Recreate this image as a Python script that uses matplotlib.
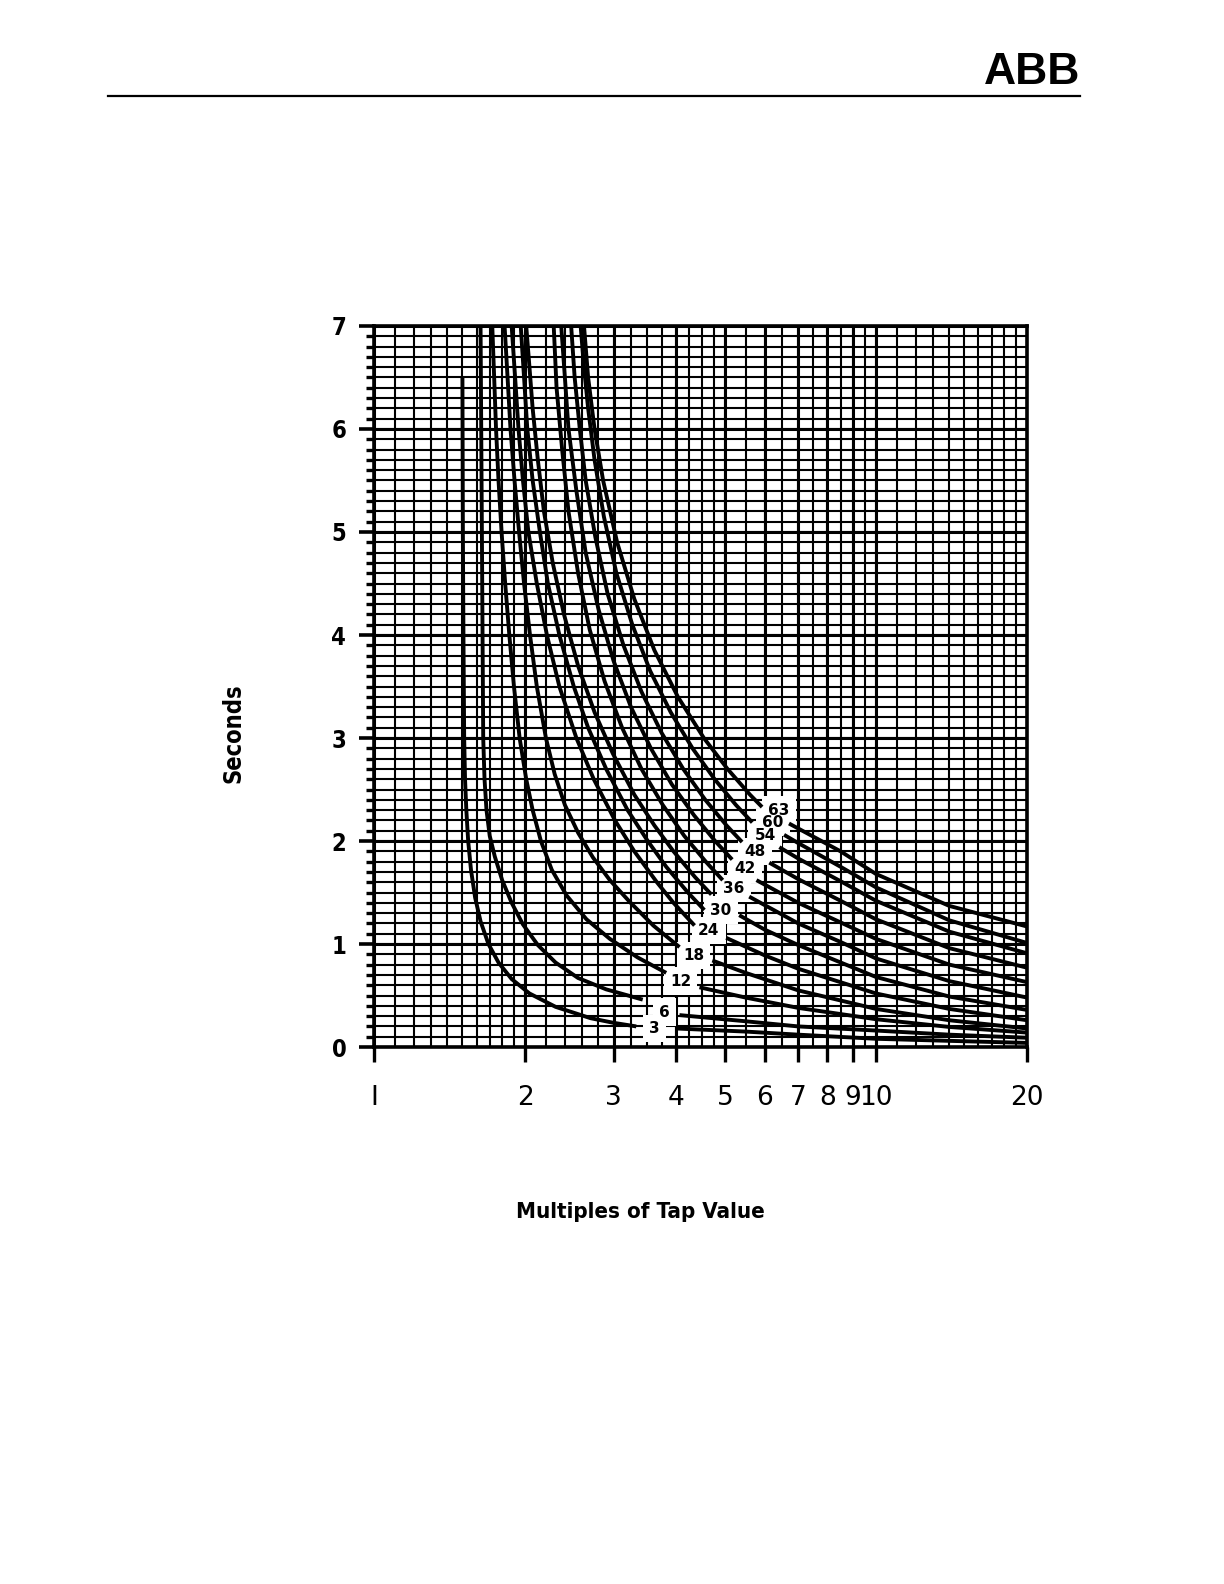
import numpy as np
import matplotlib
matplotlib.use("Agg")
import matplotlib.pyplot as plt

# curve labels and where they sit in the white band
curve_labels = [3, 6, 12, 18, 24, 30, 36, 42, 48, 54, 60, 63]
label_x = [3.62, 3.79, 4.08, 4.33, 4.64, 4.91, 5.21, 5.49, 5.74, 6.01, 6.23, 6.41]
label_t = [0.18, 0.34, 0.64, 0.89, 1.13, 1.33, 1.54, 1.73, 1.90, 2.05, 2.18, 2.30]

# part of each curve left of the labels (multiples of tap, seconds)
left_x_3 = [1.50, 1.503, 1.507, 1.512, 1.518, 1.527, 1.54, 1.56, 1.59, 1.63, 1.69, 1.77,
            1.88, 2.04, 2.3, 2.7, 3.0, 3.33]
left_t_3 = [6.5, 5.0, 4.0, 3.0, 2.6, 2.3, 2.0, 1.72, 1.45, 1.22, 1.0, 0.82,
            0.66, 0.52, 0.39, 0.28, 0.235, 0.20]
left_x_6 = [1.63, 1.635, 1.64, 1.645, 1.65, 1.66, 1.675, 1.70, 1.74, 1.80, 1.88, 1.98,
            2.12, 2.3, 2.55, 2.9, 3.43]
left_t_6 = [7.0, 6.0, 5.0, 4.0, 3.0, 2.6, 2.3, 2.05, 1.85, 1.62, 1.40, 1.19,
            0.99, 0.82, 0.67, 0.56, 0.46]
left_x_12 = [1.72, 1.735, 1.75, 1.77, 1.795, 1.825, 1.86, 1.90, 1.95, 2.01, 2.07, 2.15,
             2.26, 2.42, 2.65, 2.95, 3.35, 3.82]
left_t_12 = [7.0, 6.5, 6.0, 5.5, 5.0, 4.5, 4.0, 3.5, 3.0, 2.6, 2.3, 2.0,
             1.72, 1.47, 1.24, 1.05, 0.87, 0.72]
left_x_18 = [1.82, 1.845, 1.87, 1.905, 1.945, 1.99, 2.045, 2.11, 2.2, 2.29, 2.4, 2.55,
             2.73, 2.95, 3.23, 3.6, 4.06]
left_t_18 = [7.0, 6.5, 6.0, 5.5, 5.0, 4.5, 4.0, 3.5, 3.0, 2.65, 2.35, 2.08,
             1.84, 1.62, 1.41, 1.18, 0.97]
left_x_24 = [1.88, 1.91, 1.94, 1.98, 2.03, 2.11, 2.21, 2.34, 2.53, 2.74, 3.02, 3.30,
             3.66, 3.95, 4.35]
left_t_24 = [7.0, 6.5, 6.0, 5.5, 5.0, 4.5, 4.0, 3.5, 3.0, 2.6, 2.2, 1.9,
             1.6, 1.4, 1.18]
left_x_30 = [1.96, 1.99, 2.02, 2.07, 2.14, 2.22, 2.34, 2.50, 2.67, 2.90, 3.20, 3.51,
             3.82, 4.22, 4.55]
left_t_30 = [7.0, 6.5, 6.0, 5.5, 5.0, 4.5, 4.0, 3.5, 3.1, 2.7, 2.3, 2.0,
             1.75, 1.5, 1.33]
left_x_36 = [2.01, 2.04, 2.07, 2.12, 2.18, 2.27, 2.39, 2.55, 2.75, 2.99, 3.30, 3.62,
             3.95, 4.36, 4.70]
left_t_36 = [7.0, 6.6, 6.2, 5.7, 5.2, 4.7, 4.2, 3.7, 3.25, 2.85, 2.45, 2.15,
             1.9, 1.65, 1.48]
left_x_42 = [2.28, 2.31, 2.37, 2.44, 2.55, 2.69, 2.88, 3.12, 3.41, 3.76, 4.15, 4.58, 4.95]
left_t_42 = [7.0, 6.4, 5.8, 5.2, 4.6, 4.05, 3.55, 3.1, 2.7, 2.35, 2.05, 1.8, 1.62]
left_x_48 = [2.36, 2.40, 2.44, 2.53, 2.64, 2.80, 3.00, 3.25, 3.56, 3.92, 4.34, 4.78, 5.17]
left_t_48 = [7.0, 6.5, 6.0, 5.4, 4.8, 4.25, 3.75, 3.3, 2.9, 2.55, 2.25, 2.0, 1.82]
left_x_54 = [2.47, 2.51, 2.57, 2.64, 2.76, 2.92, 3.14, 3.41, 3.74, 4.13, 4.57, 5.04, 5.41]
left_t_54 = [7.0, 6.5, 6.0, 5.5, 4.95, 4.4, 3.9, 3.45, 3.05, 2.7, 2.4, 2.15, 1.99]
left_x_60 = [2.58, 2.62, 2.67, 2.75, 2.87, 3.04, 3.27, 3.55, 3.90, 4.31, 4.77, 5.26, 5.67]
left_t_60 = [7.0, 6.6, 6.2, 5.7, 5.15, 4.6, 4.1, 3.65, 3.25, 2.9, 2.6, 2.35, 2.18]
left_x_63 = [2.62, 2.67, 2.75, 2.86, 3.05, 3.30, 3.62, 4.03, 4.54, 5.06, 5.61, 5.93]
left_t_63 = [7.0, 6.5, 6.0, 5.5, 4.9, 4.35, 3.85, 3.4, 3.0, 2.7, 2.45, 2.33]

# part of each curve right of the labels
right_x_3 = [4.0, 5.5, 7, 10, 14, 20]
right_t_3 = [0.18, 0.15, 0.12, 0.08, 0.06, 0.04]
right_x_6 = [4.06, 5.5, 7, 10, 14, 20]
right_t_6 = [0.31, 0.25, 0.20, 0.16, 0.12, 0.09]
right_x_12 = [4.45, 5.5, 7, 10, 14, 20]
right_t_12 = [0.58, 0.48, 0.38, 0.27, 0.195, 0.14]
right_x_18 = [4.72, 5.5, 7, 10, 14, 20]
right_t_18 = [0.84, 0.72, 0.55, 0.37, 0.26, 0.18]
right_x_24 = [5.03, 6, 7, 10, 14, 20]
right_t_24 = [1.06, 0.89, 0.76, 0.52, 0.37, 0.26]
right_x_30 = [5.34, 6, 7, 10, 14, 20]
right_t_30 = [1.28, 1.14, 0.99, 0.68, 0.49, 0.36]
right_x_36 = [5.59, 7, 8.5, 10, 14, 20]
right_t_36 = [1.46, 1.20, 1.02, 0.86, 0.64, 0.48]
right_x_42 = [5.78, 7, 8.5, 10, 14, 20]
right_t_42 = [1.62, 1.40, 1.21, 1.05, 0.80, 0.63]
right_x_48 = [6.13, 7, 8.5, 10, 14, 20]
right_t_48 = [1.79, 1.63, 1.42, 1.24, 0.96, 0.77]
right_x_54 = [6.42, 7, 8.5, 10, 14, 20]
right_t_54 = [1.94, 1.83, 1.61, 1.42, 1.12, 0.91]
right_x_60 = [6.56, 7, 8.5, 10, 14, 20]
right_t_60 = [2.06, 1.98, 1.75, 1.55, 1.23, 1.01]
right_x_63 = [6.71, 8.5, 10, 14, 20]
right_t_63 = [2.17, 1.90, 1.68, 1.37, 1.17]

x_ticks = [1, 2, 3, 4, 5, 6, 7, 8, 9, 10, 20]
x_tick_labels = ["I", "2", "3", "4", "5", "6", "7", "8", "9", "10", "20"]

left_parts = [(left_x_3, left_t_3), (left_x_6, left_t_6), (left_x_12, left_t_12),
              (left_x_18, left_t_18), (left_x_24, left_t_24), (left_x_30, left_t_30),
              (left_x_36, left_t_36), (left_x_42, left_t_42), (left_x_48, left_t_48),
              (left_x_54, left_t_54), (left_x_60, left_t_60), (left_x_63, left_t_63)]
right_parts = [(right_x_3, right_t_3), (right_x_6, right_t_6), (right_x_12, right_t_12),
               (right_x_18, right_t_18), (right_x_24, right_t_24), (right_x_30, right_t_30),
               (right_x_36, right_t_36), (right_x_42, right_t_42), (right_x_48, right_t_48),
               (right_x_54, right_t_54), (right_x_60, right_t_60), (right_x_63, right_t_63)]

narrow = ["DejaVu Sans"]

fig = plt.figure(figsize=(12.24, 15.84), dpi=100)
ax = fig.add_axes([0.3056, 0.339, 0.5335, 0.4552])
ax.set_xscale("log")
ax.set_xlim(1, 20)
ax.set_ylim(0, 7)

# log paper grid
grid_x = np.concatenate([np.arange(1.0, 2.0, 0.1), np.arange(2.0, 3.0, 0.2),
                         np.arange(3.0, 5.0, 0.25), np.arange(5.0, 10.0, 0.5),
                         np.arange(10.0, 21.0, 1.0)])
for gx in grid_x:
    ax.axvline(gx, color="black", lw=1.5, zorder=1)
for gx in x_ticks:
    ax.axvline(gx, color="black", lw=2.2, zorder=1)
for gy in np.arange(0, 7.05, 0.1):
    ax.axhline(gy, color="black", lw=1.5, zorder=1)
for gy in range(8):
    ax.axhline(gy, color="black", lw=2.2, zorder=1)

for (lx, lt), (rx, rt) in zip(left_parts, right_parts):
    ax.plot(lx, lt, color="black", lw=2.8, zorder=3, solid_capstyle="butt")
    ax.plot(rx, rt, color="black", lw=2.8, zorder=3, solid_capstyle="butt")

# white band behind the labels, then the labels on top
for lab, lx, lt in zip(curve_labels, label_x, label_t):
    ax.text(lx, lt, str(lab), ha="center", va="center", fontsize=11,
            fontweight="bold", color="white", zorder=2.5,
            bbox=dict(fc="white", ec="none", pad=4.5))
for lab, lx, lt in zip(curve_labels, label_x, label_t):
    ax.text(lx, lt, str(lab), ha="center", va="center", fontsize=11,
            fontweight="bold", zorder=4)

ax.set_xticks(x_ticks)
ax.set_xticklabels(x_tick_labels)
ax.xaxis.set_minor_locator(matplotlib.ticker.NullLocator())
ax.tick_params(axis="x", which="major", direction="out", length=11, width=2.4,
               pad=16, labelsize=19)
ax.set_yticks(range(8))
ax.set_yticks(np.arange(0, 7.01, 0.1), minor=True)
ax.tick_params(axis="y", which="major", direction="out", length=11, width=2.6,
               pad=9, labelsize=17)
ax.tick_params(axis="y", which="minor", direction="out", length=6, width=2.4)
for lab in ax.get_yticklabels():
    lab.set_family(narrow)
    lab.set_fontweight("heavy")
    lab.set_fontstretch("condensed")

for sp in ax.spines.values():
    sp.set_linewidth(2.6)

fig.text(0.191, 0.537, "Seconds", rotation=90, ha="center", va="center",
         fontsize=17, fontweight="bold", family=narrow, fontstretch="condensed")
fig.text(0.523, 0.235, "Multiples of Tap Value", ha="center", va="center",
         fontsize=16, fontweight="bold", family=narrow, fontstretch="condensed")

# page header
fig.text(0.843, 0.9545, "ABB", ha="center", va="center", fontsize=32,
         fontweight="heavy", family=["Liberation Sans", "DejaVu Sans"])
fig.add_artist(plt.Line2D([0.088, 0.882], [0.9394, 0.9394], color="black", lw=1.6))

fig.savefig("out.png", dpi=100, facecolor="white")
